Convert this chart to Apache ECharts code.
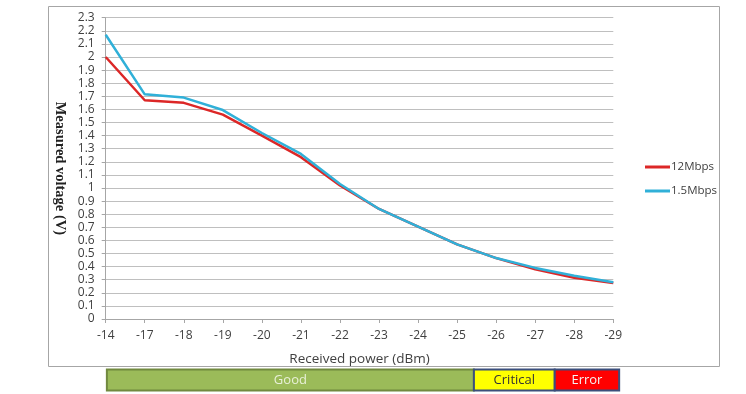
<!DOCTYPE html>
<html><head><meta charset="utf-8">
<script src="https://cdn.jsdelivr.net/npm/echarts@6/dist/echarts.min.js"></script>
<style>html,body{margin:0;padding:0;background:#fff}#c{width:746px;height:394px}</style>
</head><body><div id="c"></div>
<script>
const categories = ['-14','-17','-18','-19','-20','-21','-22','-23','-24','-25','-26','-27','-28','-29'];
const s12Mbps = [2.00,1.67,1.65,1.56,1.40,1.235,1.02,0.84,0.705,0.57,0.465,0.38,0.315,0.275];
const s15Mbps = [2.17,1.715,1.69,1.595,1.42,1.26,1.03,0.84,0.705,0.57,0.465,0.39,0.33,0.28];
const bandLabels = ['Good','Critical','Error'];
const bandEdges = [0.03, 9.43, 11.5, 13.15]; // in category-index units
const bandFill = ['#9bbb59','#ffff00','#ff0000'];
const bandStroke = ['#71893f','#3b4f7c','#3b4f7c'];
const bandText = ['#e8f0d8','#333333','#f4f4f4'];

const chart = echarts.init(document.getElementById('c'));
const font = '"Open Sans", "Liberation Sans", sans-serif';
chart.setOption({
  animation:false,
  grid:{left:105.7,right:132.7,top:17.7,bottom:75},
  legend:{orient:'vertical',left:640,top:156,itemGap:12,itemWidth:25,itemHeight:3,icon:'rect',
    textStyle:{fontFamily:font,fontSize:11.5,color:'#404040',padding:[0,0,0,-4]},
    data:['12Mbps','1.5Mbps']},
  xAxis:{type:'category',data:categories,boundaryGap:false,
    name:'Received power (dBm)',nameLocation:'middle',nameGap:33,
    nameTextStyle:{fontFamily:font,fontSize:13.5,color:'#404040'},
    axisLine:{lineStyle:{color:'#a6a6a6'}},
    axisTick:{alignWithLabel:true,length:4,lineStyle:{color:'#a6a6a6'}},
    axisLabel:{fontFamily:font,fontSize:12,color:'#404040',margin:11},
    splitLine:{show:false}},
  yAxis:{type:'value',min:0,max:2.3,interval:0.1,
    name:'Measured voltage (V)',nameLocation:'middle',nameRotate:-90,nameGap:35,
    nameTextStyle:{fontFamily:'"Liberation Serif","DejaVu Serif",serif',fontSize:14.5,fontWeight:'bold',color:'#222'},
    axisLine:{show:true,lineStyle:{color:'#a6a6a6'}},
    axisTick:{show:true,length:4,lineStyle:{color:'#a6a6a6'}},
    axisLabel:{fontFamily:font,fontSize:12,color:'#404040',margin:11,
      formatter:v=>String(Math.round(v*10)/10)},
    splitLine:{lineStyle:{color:'#bfbfbf',width:1}}},
  series:[
    {name:'12Mbps',type:'line',data:s12Mbps,showSymbol:false,symbol:'none',
      lineStyle:{color:'#dc2727',width:2.5},itemStyle:{color:'#dc2727'}},
    {name:'1.5Mbps',type:'line',data:s15Mbps,showSymbol:false,symbol:'none',
      lineStyle:{color:'#30b0d8',width:2.5},itemStyle:{color:'#30b0d8'}}
  ]
});

const p0 = chart.convertToPixel({xAxisIndex:0}, 0);
const p13 = chart.convertToPixel({xAxisIndex:0}, 13);
const step = (p13 - p0)/13;
const gx = i => p0 + i*step;
const elems = [{type:'rect',shape:{x:48.5,y:6.5,width:671,height:360},
  style:{fill:null,stroke:'#a6a6a6',lineWidth:1},z:-1,silent:true}];
bandLabels.forEach((lab,k)=>{
  const x1 = gx(bandEdges[k]), x2 = gx(bandEdges[k+1]);
  elems.push({type:'rect',shape:{x:x1,y:369.5,width:x2-x1,height:21},
    style:{fill:bandFill[k],stroke:bandStroke[k],lineWidth:2}});
  elems.push({type:'text',x:(x1+x2)/2,y:380,
    style:{text:lab,fill:bandText[k],font:'13px '+font,align:'center',verticalAlign:'middle'}});
});
chart.setOption({graphic:elems});
</script></body></html>
